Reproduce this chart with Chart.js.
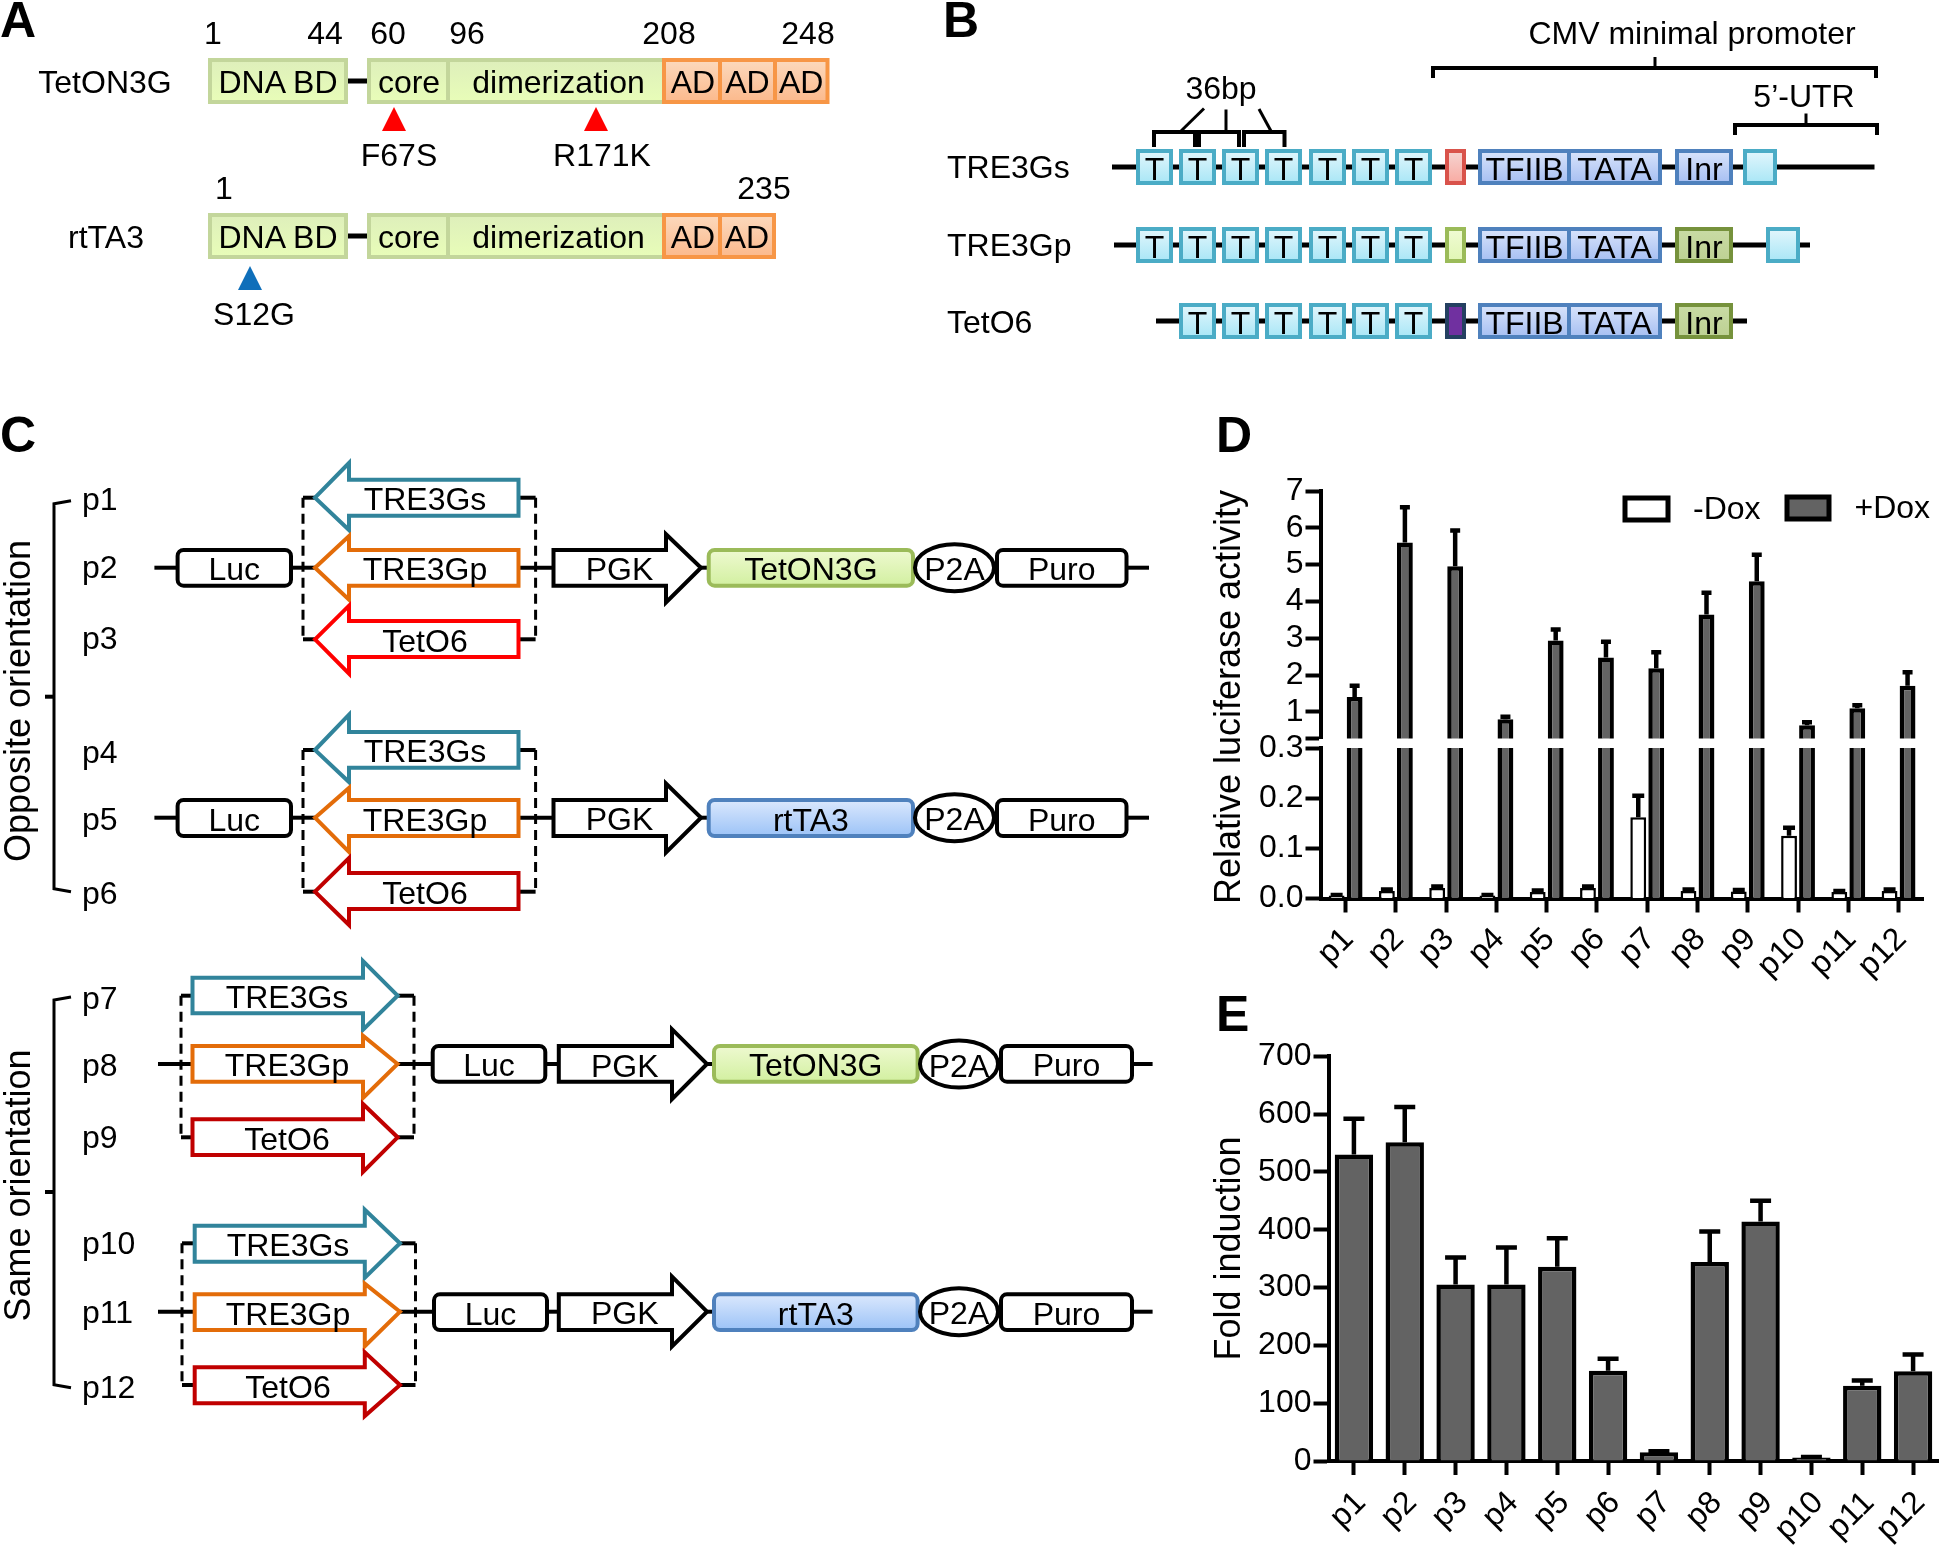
<!DOCTYPE html>
<html>
<head>
<meta charset="utf-8">
<title>Tet-On constructs</title>
<script src="https://cdn.jsdelivr.net/npm/chart.js@4/dist/chart.umd.min.js"></script>
<style>
  html, body { margin: 0; padding: 0; background: #fff; }
  #page { position: relative; width: 1941px; height: 1549px; overflow: hidden; }
  #page canvas, #page svg { position: absolute; }
  svg text { font-family: "Liberation Sans", Arial, sans-serif; font-size: 32px; fill: #000; }
</style>
</head>
<body>
<div id="page">
  <canvas id="d-upper" style="left:1220px;top:460px" width="721" height="300"></canvas>
  <canvas id="d-lower" style="left:1220px;top:725px" width="721" height="275"></canvas>
  <canvas id="e-chart" style="left:1228px;top:1035px" width="733" height="514"></canvas>
  <svg id="schematic" width="1941" height="1549" style="left:0;top:0"></svg>
</div>
<script>
// ---- chart data ----
const constructs = ['p1', 'p2', 'p3', 'p4', 'p5', 'p6', 'p7', 'p8', 'p9', 'p10', 'p11', 'p12'];

const minusDox    = [0.006, 0.015, 0.021, 0.006, 0.013, 0.021, 0.162, 0.015, 0.014, 0.125, 0.013, 0.015];
const minusDoxTop = [0.007, 0.018, 0.024, 0.007, 0.016, 0.024, 0.205, 0.018, 0.017, 0.141, 0.015, 0.018];
const plusDox     = [1.41, 5.6, 4.96, 0.8, 2.94, 2.48, 2.19, 3.65, 4.55, 0.64, 1.1, 1.71];
const plusDoxTop  = [1.71, 6.56, 5.93, 0.87, 3.24, 2.91, 2.62, 4.24, 5.27, 0.72, 1.18, 2.08];

const foldInduction    = [530, 551, 305, 305, 336, 156, 15, 344, 414, 6, 130, 155];
const foldInductionTop = [592, 612, 352, 369, 385, 177, 17, 397, 450, 7, 139, 184];

const upperTicks = [0.28, 1, 2, 3, 4, 5, 6, 7];   // 0.28 = unlabelled tick at the axis break
const lowerTicks = [0, 0.1, 0.2, 0.3];
const foldTicks  = [0, 100, 200, 300, 400, 500, 600, 700];

// ---- Chart.js helpers ----
const FONT = '"Liberation Sans", Arial, sans-serif';
const GREY = '#636363';

// upward-only error bars, x from the bar element and y from the value scale
const errorBars = {
  id: 'errorBars',
  afterDatasetsDraw(chart, args, opts) {
    const ctx = chart.ctx;
    const y = chart.scales.y;
    ctx.save();
    ctx.beginPath();
    ctx.rect(chart.chartArea.left, chart.chartArea.top - 6, chart.chartArea.width, chart.chartArea.height + 6);
    ctx.clip();
    ctx.strokeStyle = '#000';
    ctx.lineWidth = 4.5;
    chart.data.datasets.forEach((ds, i) => {
      const meta = chart.getDatasetMeta(i);
      ds.errTop.forEach((top, j) => {
        if (top > y.max || top < y.min) return;
        const x = meta.data[j].x;
        const py = y.getPixelForValue(top);
        ctx.beginPath();
        ctx.moveTo(x, y.getPixelForValue(Math.max(ds.data[j], y.min)));
        ctx.lineTo(x, py);
        ctx.moveTo(x - opts.cap / 2, py);
        ctx.lineTo(x + opts.cap / 2, py);
        ctx.stroke();
      });
    });
    ctx.restore();
  },
};

function valueAxis(ticks, yWidth, label) {
  return {
    min: ticks[0],
    max: ticks[ticks.length - 1],
    afterFit(s) { s.width = yWidth; },
    afterBuildTicks(s) { s.ticks = ticks.map(v => ({ value: v })); },
    border: { color: '#000', width: 4 },
    grid: { drawOnChartArea: false, tickLength: 15, tickWidth: 4, tickColor: '#000' },
    ticks: { color: '#000', padding: 2, autoSkip: false, font: { family: FONT, size: 32 }, callback: label },
  };
}

function categoryAxis(show, xHeight, pad, shift) {
  return {
    display: show,
    afterFit(s) { s.height = xHeight; },
    border: { color: '#000', width: 4 },
    grid: { offset: false, drawOnChartArea: false, tickLength: 14, tickWidth: 4, tickColor: '#000' },
    ticks: { color: '#000', padding: pad, labelOffset: shift, autoSkip: false, minRotation: 45, maxRotation: 45, font: { family: FONT, size: 32 } },
  };
}

function barChart(id, datasets, yAxis, xAxis, padding, cap) {
  return new Chart(document.getElementById(id), {
    type: 'bar',
    data: { labels: constructs, datasets },
    options: {
      responsive: false,
      animation: false,
      events: [],
      layout: { padding, autoPadding: false },
      plugins: { legend: { display: false }, tooltip: { enabled: false }, errorBars: { cap } },
      scales: { x: xAxis, y: yAxis },
    },
    plugins: [errorBars],
  });
}

function doxSets() {
  const shared = { borderColor: '#000', clip: 0, categoryPercentage: 0.716, barPercentage: 0.88 };
  return [
    { ...shared, label: '-Dox', data: minusDox, errTop: minusDoxTop, backgroundColor: '#fff', borderWidth: 2.5 },
    { ...shared, label: '+Dox', data: plusDox, errTop: plusDoxTop, backgroundColor: GREY, borderWidth: 4.5 },
  ];
}

// panel D: broken axis, two charts sharing x positions
barChart('d-upper', doxSets(),
  valueAxis(upperTicks, 100.5, v => (v === upperTicks[0] ? '' : v)),
  categoryAxis(false, 0, 0, 0),
  { top: 31, bottom: 21.5, left: 0, right: 17.3 }, 10);

barChart('d-lower', doxSets(),
  valueAxis(lowerTicks, 100.5, v => v.toFixed(1)),
  categoryAxis(true, 101.5, 8, 3),
  { top: 23, bottom: 0, left: 0, right: 17.3 }, 12);

// panel E (canvas runs past the page edge so the label overhang can't squeeze the plot)
barChart('e-chart',
  [{ label: 'Fold induction', data: foldInduction, errTop: foldInductionTop, backgroundColor: GREY,
     borderColor: '#000', borderWidth: 4.5, clip: 0, categoryPercentage: 1, barPercentage: 0.755 }],
  valueAxis(foldTicks, 100.5, v => v),
  categoryAxis(true, 88, 9, 7),
  { top: 20, bottom: 0, left: 0, right: 22.5 }, 21);

// ---- schematic panels (SVG) ----
const fills = {
  green: ['#deefbb', '#e8fdb8', '#c3d69b'],
  greenStrong: ['#eef9d0', '#d2f0a0', '#9bbb59'],
  orange: ['#fcd9bd', '#fbb98c', '#f79646'],
  cyan: ['#e2f6fc', '#a9e6f6', '#4bacc6'],
  blue: ['#d9e4fb', '#a6bff2', '#4f81bd'],
  rtta: ['#dbe8fd', '#9cc3f7', '#4f81bd'],
  olive: ['#c9dba5', '#bdd193', '#76923c'],
  red: ['#f5d5d2', '#f9aaa2', '#d9534b'],
  pale: ['#f0fbd4', '#e0f6b4', '#9bbb59'],
  purple: ['#7030a0', '#7030a0', '#244061'],
};

let defs = '';
let out = '';
Object.keys(fills).forEach(k => {
  defs += `<linearGradient id="g-${k}" x1="0" y1="0" x2="0" y2="1"><stop offset="0" stop-color="${fills[k][0]}"/><stop offset="1" stop-color="${fills[k][1]}"/></linearGradient>`;
});

function label(x, y, s, anchor, extra) {
  // plain labels sit 1px lower than the measured baseline, Liberation rides a little high against the original
  out += `<text x="${x}" y="${extra ? y : y + 1}" text-anchor="${anchor || 'middle'}" ${extra || ''}>${s}</text>`;
}
function segment(x1, y1, x2, y2, w, dash) {
  out += `<line x1="${x1}" y1="${y1}" x2="${x2}" y2="${y2}" stroke="#000" stroke-width="${w || 4}" ${dash ? `stroke-dasharray="${dash}"` : ''}/>`;
}
function path(points, w) {
  out += `<polyline points="${points.join(' ')}" fill="none" stroke="#000" stroke-width="${w || 4}"/>`;
}
function box(x0, x1, y0, y1, kind, text) {
  out += `<rect x="${x0}" y="${y0}" width="${x1 - x0}" height="${y1 - y0}" fill="url(#g-${kind})" stroke="${fills[kind][2]}" stroke-width="4"/>`;
  if (text) label((x0 + x1) / 2, (y0 + y1) / 2 + 11.5, text);
}
function whiteBox(x0, x1, y0, y1, text) {
  out += `<rect x="${x0}" y="${y0}" width="${x1 - x0}" height="${y1 - y0}" rx="6" fill="#fff" stroke="#000" stroke-width="4"/>`;
  label((x0 + x1) / 2, (y0 + y1) / 2 + 11.5, text);
}
function colorBox(x0, x1, y0, y1, kind, text) {
  out += `<rect x="${x0}" y="${y0}" width="${x1 - x0}" height="${y1 - y0}" rx="6" fill="url(#g-${kind})" stroke="${fills[kind][2]}" stroke-width="4"/>`;
  label((x0 + x1) / 2, (y0 + y1) / 2 + 11.5, text);
}
function poly(points, stroke, fill) {
  out += `<polygon points="${points.join(' ')}" fill="${fill}" stroke="${stroke}" stroke-width="4"/>`;
}
function triangle(cx, top, bottom, color) {
  out += `<polygon points="${cx},${top} ${cx + 12},${bottom} ${cx - 12},${bottom}" fill="${color}"/>`;
}

// panel letters
[['A', 0, 37], ['B', 943, 37], ['C', 0, 452], ['D', 1216, 452], ['E', 1216, 1031]].forEach(p => {
  label(p[1], p[2], p[0], 'start', 'style="font-size:50px;font-weight:bold"');
});

// ---- panel A ----
function proteinRow(y0, y1, ends) {
  const base = y1 - 10;
  segment(345, (y0 + y1) / 2, 369, (y0 + y1) / 2, 5);
  box(210, 346, y0, y1, 'green');
  label(278, base, 'DNA BD');
  box(369, 448, y0, y1, 'green');
  label(409, base, 'core');
  box(448, 664, y0, y1, 'green');
  label(558.5, base, 'dimerization');
  ends.forEach((x, i) => {
    const left = i ? ends[i - 1] : 664;
    box(left, x, y0, y1, 'orange');
    label((left + x) / 2 + (i === 0 ? 1 : 0), base, 'AD');
  });
}
label(105, 92, 'TetON3G');
proteinRow(60, 102, [720, 775, 827.5]);
[[213, '1'], [325, '44'], [388, '60'], [467, '96'], [669, '208'], [808, '248']].forEach(t => label(t[0], 43, t[1]));
triangle(394, 107, 131, '#ff0000');
triangle(596, 107, 131, '#ff0000');
label(399, 165, 'F67S');
label(602, 165, 'R171K');

label(106, 247, 'rtTA3');
label(224, 198, '1');
label(764, 198, '235');
proteinRow(215, 257, [720, 774]);
triangle(250, 266, 290, '#0f6fba');
label(254, 324, 'S12G');

// ---- panel B ----
const tStarts = [1136, 1179, 1222, 1265, 1309, 1352, 1395];
function promoterRow(name, cy, nameY, lineFrom, lineTo, tFrom, spacerKind, inrKind, utr) {
  const y0 = cy - 16, y1 = cy + 16;
  label(947, nameY, name, 'start');
  segment(lineFrom, cy, lineTo, cy, 5);
  tStarts.slice(tFrom).forEach(x => box(x + 2, x + 35, y0, y1, 'cyan', 'T'));
  box(1447, 1464, y0, y1, spacerKind);
  box(1480, 1569, y0, y1, 'blue', 'TFIIB');
  box(1569, 1660, y0, y1, 'blue', 'TATA');
  box(1677, 1731, y0, y1, inrKind, 'Inr');
  if (utr) box(utr + 2, utr + 32, y0, y1, 'cyan');
}
promoterRow('TRE3Gs', 167, 177, 1112, 1874.5, 0, 'red', 'blue', 1743);
promoterRow('TRE3Gp', 245, 255, 1114, 1810, 0, 'pale', 'olive', 1766);
promoterRow('TetO6', 321, 332, 1156, 1747, 1, 'purple', 'olive', 0);

label(1692, 42.5, 'CMV minimal promoter');
path([[1433, 78], [1433, 68], [1876, 68], [1876, 78]]);
segment(1655, 68, 1655, 57, 3);
label(1804, 106, '5’-UTR');
path([[1735, 135], [1735, 125], [1877, 125], [1877, 135]]);
segment(1806, 125, 1806, 113.5, 3);
label(1221, 98, '36bp');
[[1154, 1195], [1199, 1239], [1244, 1284.5]].forEach(b => path([[b[0], 147], [b[0], 132], [b[1], 132], [b[1], 147]]));
segment(1180, 132, 1204, 108.5, 3);
segment(1226, 132, 1226, 109.5, 3);
segment(1271.5, 132, 1259, 109, 3);

// ---- panel C ----
const promoters = [['TRE3Gs', '#31849b'], ['TRE3Gp', '#e36c09'], ['TetO6', '#c00000']];

function promoterArrow(g, i, color) {
  const [tip, top, bot, bodyTop, bodyBot] = g.rows[i];
  // head points pulled in by the stroke's mitre so the visible tips land where measured
  poly([[g.tipX, tip], [g.baseX, top + 3], [g.baseX, bodyTop], [g.tailX, bodyTop], [g.tailX, bodyBot], [g.baseX, bodyBot], [g.baseX, bot - 3]], color, '#fff');
  label(g.textX, (bodyTop + bodyBot) / 2 + 11.5, promoters[i][0]);
}

function group(g) {
  const first = g.rows[0][0], last = g.rows[2][0];
  // dashed side brackets
  g.dash.forEach((d, k) => {
    segment(d, first, d, last, 3, '10 6');
    const end = g.dashEnds[k];
    segment(d, first, end, first, 4);
    segment(d, last, end, last, 4);
  });
  g.lines.forEach(s => segment(s[0], g.mainY, s[1], g.mainY, 4));
  promoters.forEach((p, i) => promoterArrow(g, i, i === 2 ? g.red : p[1]));
  const b0 = g.rows[1][3], b1 = g.rows[1][4];
  whiteBox(g.luc[0], g.luc[1], b0, b1, 'Luc');
  poly([[g.pgk[0], b0], [g.pgk[1], b0], [g.pgk[1], g.pgkHead[0] + 2.5], [g.pgk[2], g.mainY], [g.pgk[1], g.pgkHead[1] - 2.5], [g.pgk[1], b1], [g.pgk[0], b1]], '#000', '#fff');
  label(g.pgk[0] + 66, g.mainY + 11.5, 'PGK');
  colorBox(g.gene[0], g.gene[1], b0, b1, g.geneKind, g.geneName);
  out += `<ellipse cx="${(g.p2a[0] + g.p2a[1]) / 2}" cy="${g.mainY}" rx="${(g.p2a[1] - g.p2a[0]) / 2}" ry="23.5" fill="#fff" stroke="#000" stroke-width="4"/>`;
  label((g.p2a[0] + g.p2a[1]) / 2, g.mainY + 11.5, 'P2A');
  whiteBox(g.puro[0], g.puro[1], b0, b1, 'Puro');
  g.names.forEach(n => label(82, n[1], n[0], 'start'));
}

group({
  rows: [[497.7, 460, 533, 479.7, 515.7], [567.7, 533, 602.7, 550, 585.7], [639.3, 602.7, 676.7, 621, 657]],
  tipX: 315, baseX: 349, tailX: 518.5, textX: 425, red: '#ff0000',
  dash: [303, 535.6], dashEnds: [315, 518.5], mainY: 567.7,
  lines: [[154.4, 177.6], [291, 315], [518.5, 553.5], [701, 708.7], [1126.5, 1149]],
  luc: [177.6, 291], pgk: [553.5, 666, 701], pgkHead: [531.7, 605], gene: [708.7, 913], geneKind: 'greenStrong', geneName: 'TetON3G',
  p2a: [915, 994], puro: [997, 1126.5], names: [['p1', 509], ['p2', 577], ['p3', 648]],
});
group({
  rows: [[750, 711.7, 785, 732, 767.7], [817.7, 785, 855, 800, 836], [891.7, 855, 928, 873, 909]],
  tipX: 315, baseX: 349, tailX: 518.5, textX: 425, red: '#c00000',
  dash: [303, 535.6], dashEnds: [315, 518.5], mainY: 817.7,
  lines: [[154.4, 177.6], [291, 315], [518.5, 553.5], [701, 708.7], [1126.5, 1149]],
  luc: [177.6, 291], pgk: [553.5, 666, 701], pgkHead: [781, 855], gene: [708.7, 913], geneKind: 'rtta', geneName: 'rtTA3',
  p2a: [915, 994], puro: [997, 1126.5], names: [['p4', 762], ['p5', 829], ['p6', 903]],
});
group({
  rows: [[995.7, 958, 1032.7, 977.7, 1013.3], [1064, 1032.7, 1101, 1046, 1081.7], [1137.3, 1101, 1175, 1119.3, 1155]],
  tipX: 397.6, baseX: 363, tailX: 192.5, textX: 287, red: '#c00000',
  dash: [181, 414], dashEnds: [192.5, 397.6], mainY: 1064,
  lines: [[158, 192.5], [397.6, 432.7], [545.3, 558.8], [707, 714], [1132, 1152.6]],
  luc: [432.7, 545.3], pgk: [558.8, 672, 707], pgkHead: [1026.7, 1101.7], gene: [714, 917.6], geneKind: 'greenStrong', geneName: 'TetON3G',
  p2a: [920, 998], puro: [1001, 1132], names: [['p7', 1008], ['p8', 1075], ['p9', 1147]],
});
group({
  rows: [[1243.3, 1206.7, 1280.7, 1225.7, 1261.7], [1311.7, 1280.7, 1349.3, 1294.3, 1330], [1385, 1349.3, 1419, 1367.3, 1403.3]],
  tipX: 400, baseX: 364.8, tailX: 194.7, textX: 288, red: '#c00000',
  dash: [182, 415.5], dashEnds: [194.7, 400], mainY: 1311.7,
  lines: [[158, 194.7], [400, 434], [547, 558.8], [707, 714], [1132, 1152.6]],
  luc: [434, 547], pgk: [558.8, 672, 707], pgkHead: [1274, 1349], gene: [714, 917.6], geneKind: 'rtta', geneName: 'rtTA3',
  p2a: [920, 998], puro: [1001, 1132], names: [['p10', 1253], ['p11', 1321.7], ['p12', 1396.7]],
});

// orientation braces
function brace(top, bottom, mid, name, textY) {
  path([[71, top], [54, top + 3], [54, bottom - 3], [71, bottom]], 3);
  segment(54, mid, 45, mid, 4);
  label(30, textY, name, 'middle', `transform="rotate(-90 30 ${textY})" style="font-size:36px"`);
}
brace(500.7, 891.7, 696.7, 'Opposite orientation', 701);
brace(997, 1387.7, 1192, 'Same orientation', 1185.5);

// ---- chart side text and legend ----
label(1240, 697, 'Relative luciferase activity', 'middle', 'transform="rotate(-90 1240 697)" style="font-size:36px"');
label(1240, 1248.5, 'Fold induction', 'middle', 'transform="rotate(-90 1240 1248.5)" style="font-size:36px"');
out += `<rect x="1625" y="498" width="43" height="22" fill="#fff" stroke="#000" stroke-width="5"/>`;
label(1693, 518, '-Dox', 'start');
out += `<rect x="1787" y="497" width="42" height="22" fill="${GREY}" stroke="#000" stroke-width="5"/>`;
label(1854.5, 517, '+Dox', 'start');

document.getElementById('schematic').innerHTML = `<defs>${defs}</defs>${out}`;
</script>
</body>
</html>
